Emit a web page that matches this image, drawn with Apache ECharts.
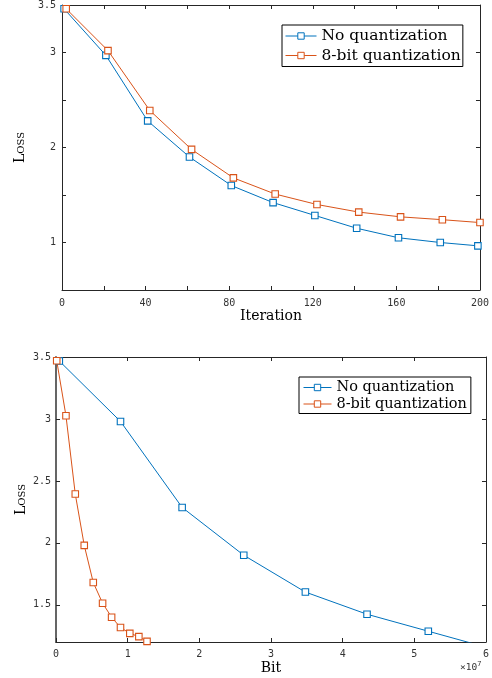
<!DOCTYPE html>
<html><head><meta charset="utf-8">
<script src="https://cdn.jsdelivr.net/npm/echarts@6/dist/echarts.min.js"></script>
<style>html,body{margin:0;padding:0;background:#fff}#c{width:492px;height:678px}</style>
</head><body><div id="c"></div>
<script>
const seriesNames = ['No quantization', '8-bit quantization'];
// Top chart: loss vs iteration
const iterNoQuant = [1, 21, 41, 61, 81, 101, 121, 141, 161, 181, 199];
const lossNoQuant = [3.46, 2.97, 2.28, 1.90, 1.60, 1.42, 1.285, 1.15, 1.05, 1.00, 0.965];
const iterQuant = [2, 22, 42, 62, 82, 102, 122, 142, 162, 182, 200];
const lossQuant = [3.46, 3.02, 2.39, 1.98, 1.68, 1.51, 1.40, 1.32, 1.27, 1.24, 1.21];
// Bottom chart: loss vs bit (in units of 10^7)
const bitNoQuant = [0.046, 0.90, 1.76, 2.62, 3.48, 4.34, 5.195, 6.05];
const bitLossNoQuant = [3.468, 2.98, 2.286, 1.90, 1.603, 1.424, 1.287, 1.15];
const bitQuant = [0.01, 0.139, 0.269, 0.394, 0.52, 0.65, 0.776, 0.90, 1.03, 1.156, 1.27];
const bitLossQuant = [3.47, 3.026, 2.394, 1.98, 1.68, 1.513, 1.40, 1.317, 1.27, 1.243, 1.205];
// Ticks and labels
const iterTicks = [0, 20, 40, 60, 80, 100, 120, 140, 160, 180, 200];
const iterLabels = [0, 40, 80, 120, 160, 200];
const lossTicksTop = [0.5, 1, 1.5, 2, 2.5, 3, 3.5];
const lossLabelsTop = [1, 2, 3, 3.5];
const bitTicks = [0, 1, 2, 3, 4, 5, 6];
const lossTicksBottom = [1.5, 2, 2.5, 3, 3.5];
const axisTitles = { iter: 'Iteration', bit: 'Bit', loss: 'Loss', exp: '7' };

const BLUE = '#0072BD', ORANGE = '#D95319', AX = '#262626';
const SERIF = 'DejaVu Serif';
const tickFont = { fontFamily: 'DejaVu Sans Mono', fontSize: 10, color: '#333' };

function axis(opts) {
  const { grid, pos, min, max, ticks, labels, margin, name, nameGap, lw, noMove } = opts;
  const a = {
    type: 'value', gridIndex: grid, position: pos, min, max,
    axisLine: { show: true, onZero: false, lineStyle: { color: lw ? '#555' : AX, width: lw || 1 } },
    axisTick: { show: true, inside: true, length: 4, customValues: ticks, lineStyle: { color: AX } },
    axisLabel: labels ? Object.assign({ show: true, margin, customValues: labels }, tickFont) : { show: false },
    splitLine: { show: false },
    name: name || '', nameLocation: 'middle', nameGap: nameGap || 0,
    nameTextStyle: name ? opts.nameStyle : undefined
  };
  if (noMove) a.nameMoveOverlap = false;
  return a;
}

const xNameStyle = { fontFamily: SERIF, fontSize: 14, color: '#000' };
const yNameStyle = { fontFamily: SERIF, fontSize: 14, color: '#000', fontStyle: 'small-caps' };
const legendCommon = {
  data: seriesNames, orient: 'vertical',
  borderColor: '#000', borderWidth: 1, backgroundColor: '#fff',
  itemStyle: { borderWidth: 1 }, lineStyle: { width: 1 }
};

const option = {
  animation: false,
  backgroundColor: '#fff',
  grid: [
    { left: 62, right: 10, top: 1, height: 289 },
    { left: 56, right: 5, top: 357, height: 285 }
  ],
  xAxis: [
    axis({ grid: 0, pos: 'bottom', min: 0, max: 200, ticks: iterTicks, labels: iterLabels, margin: 8, name: axisTitles.iter, nameGap: 19, nameStyle: xNameStyle }),
    axis({ grid: 0, pos: 'top', min: 0, max: 200, ticks: iterTicks }),
    axis({ grid: 1, pos: 'bottom', min: 0, max: 6, ticks: bitTicks, labels: bitTicks, margin: 7, name: axisTitles.bit, nameGap: 19, nameStyle: xNameStyle }),
    axis({ grid: 1, pos: 'top', min: 0, max: 6, ticks: bitTicks })
  ],
  yAxis: [
    axis({ grid: 0, pos: 'left', min: 0.5, max: 3.5, ticks: lossTicksTop, labels: lossLabelsTop, margin: 6, name: axisTitles.loss, nameGap: 35, nameStyle: yNameStyle, noMove: true }),
    axis({ grid: 0, pos: 'right', min: 0.5, max: 3.5, ticks: lossTicksTop }),
    axis({ grid: 1, pos: 'left', min: 1.2, max: 3.5, ticks: lossTicksBottom, labels: lossTicksBottom, margin: 5, name: axisTitles.loss, nameGap: 28, nameStyle: yNameStyle, lw: 1.8, noMove: true }),
    axis({ grid: 1, pos: 'right', min: 1.2, max: 3.5, ticks: lossTicksBottom })
  ],
  legend: [
    Object.assign({}, legendCommon, {
      left: 282, top: 25,
      padding: [3, 2, 3, 3], itemWidth: 31, itemHeight: 8, itemGap: 3.5,
      textStyle: { fontFamily: SERIF, fontSize: 15.5, color: '#000' }
    }),
    Object.assign({}, legendCommon, {
      left: 299, top: 377,
      padding: [3, 4, 2, 4], itemWidth: 28, itemHeight: 8, itemGap: 1.5,
      textStyle: { fontFamily: SERIF, fontSize: 14.5, color: '#000' }
    })
  ],
  graphic: [
    {
      type: 'text', left: 460, top: 661,
      style: {
        text: '{a|×10}{b|' + axisTitles.exp + '}',
        rich: {
          a: { fontFamily: 'DejaVu Sans Mono', fontSize: 9.5, fill: '#333', color: '#333' },
          b: { fontFamily: 'DejaVu Sans Mono', fontSize: 7, fill: '#333', color: '#333', padding: [0, 0, 7, 0] }
        }
      }
    }
  ],
  series: [
    { name: seriesNames[0], type: 'line', xAxisIndex: 0, yAxisIndex: 0, data: iterNoQuant.map((x, i) => [x, lossNoQuant[i]]) },
    { name: seriesNames[1], type: 'line', xAxisIndex: 0, yAxisIndex: 0, data: iterQuant.map((x, i) => [x, lossQuant[i]]) },
    { name: seriesNames[0], type: 'line', xAxisIndex: 2, yAxisIndex: 2, data: bitNoQuant.map((x, i) => [x, bitLossNoQuant[i]]) },
    { name: seriesNames[1], type: 'line', xAxisIndex: 2, yAxisIndex: 2, data: bitQuant.map((x, i) => [x, bitLossQuant[i]]) }
  ].map((s, i) => {
    const c = i % 2 === 0 ? BLUE : ORANGE;
    return Object.assign(s, {
      symbol: 'rect', symbolSize: 6.5, showAllSymbol: true, clip: true,
      lineStyle: { width: 1, color: c },
      itemStyle: { color: '#fff', borderColor: c, borderWidth: 1.1 }
    });
  })
};

const chart = echarts.init(document.getElementById('c'), null, { renderer: 'canvas' });
chart.setOption(option);
</script>
</body></html>
